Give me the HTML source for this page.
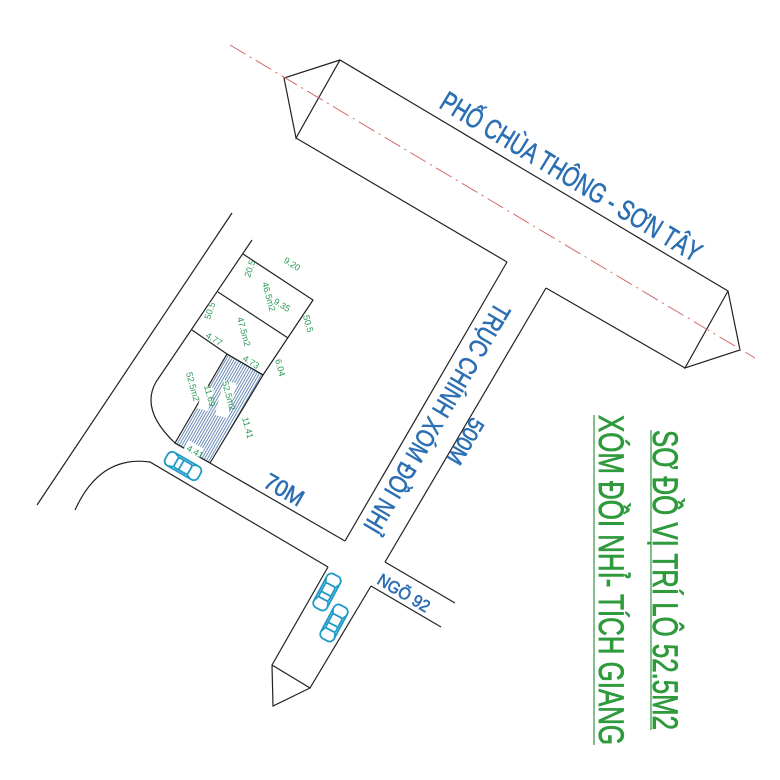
<!DOCTYPE html>
<html><head><meta charset="utf-8"><style>
html,body{margin:0;padding:0;background:#fff;}
svg{display:block;}
.b{fill:#2b6fb3;stroke:#2b6fb3;stroke-width:0.6;font-family:"Liberation Sans",sans-serif;}
.g{fill:#2a9a55;font-family:"Liberation Sans",sans-serif;font-size:9px;}
.gt{fill:#2e9a3c;stroke:#2e9a3c;stroke-width:0.8;font-family:"Liberation Sans","DejaVu Sans",sans-serif;}
</style></head><body>
<svg width="780" height="780" viewBox="0 0 780 780" xmlns="http://www.w3.org/2000/svg">
<defs>
<pattern id="h" width="2.4" height="10" patternUnits="userSpaceOnUse" patternTransform="rotate(30)">
<line x1="1" y1="0" x2="1" y2="10" stroke="#5a7fb0" stroke-width="0.9"/>
</pattern>
<g id="car" fill="none" stroke="#1e9ac6" stroke-width="1.8">
<rect x="-19" y="-7.5" width="38" height="15" rx="5"/>
<rect x="-8" y="-5.5" width="16" height="11" rx="2"/>
<line x1="-8" y1="-5.5" x2="-13" y2="-7.5"/><line x1="-8" y1="5.5" x2="-13" y2="7.5"/>
<line x1="8" y1="-5.5" x2="12" y2="-7.5"/><line x1="8" y1="5.5" x2="12" y2="7.5"/>
<line x1="-2" y1="-5.5" x2="-2" y2="5.5"/>
</g>
</defs>
<g fill="none" stroke="#222" stroke-width="1.2">
<polyline points="340,60 284,78 296,138 340,60 728,291 740,350 685,368 728,291"/>
<line x1="296" y1="138" x2="507" y2="262"/>
<line x1="685" y1="368" x2="546" y2="288"/>
<line x1="507" y1="262" x2="345" y2="541"/>
<line x1="546" y1="288" x2="385" y2="562"/>
<line x1="385" y1="562" x2="455" y2="603"/>
<line x1="371" y1="586" x2="441" y2="627"/>
<line x1="371" y1="586" x2="310" y2="688"/>
<polyline points="328,567 272,665 273,706 310,688 272,665"/>
<line x1="210" y1="463" x2="345" y2="541"/>
<path d="M75,510 Q100,455 150,462 L328,567"/>
<line x1="232" y1="213" x2="37" y2="505"/>
<path d="M252,240 L156,382 Q140,410 175,443 L210,463"/>
<polyline points="243,254 313,300 263,375"/>
<line x1="218" y1="292" x2="288" y2="338"/>
<polyline points="192,330 227,354 263,375"/>
</g>
<polygon points="227,354 263,375 210,463 175,443" fill="url(#h)" stroke="#222" stroke-width="1.2"/>
<line x1="230" y1="45" x2="755" y2="358" stroke="#d46a6a" stroke-width="1" stroke-dasharray="18,5,2,5"/>
<g class="g">
<text transform="translate(250,278) rotate(-72)">20.5</text>
<text transform="translate(283,262) rotate(32)">9.20</text>
<text transform="translate(262,283) rotate(75)">46.5m2</text>
<text transform="translate(273,303) rotate(32)">9.35</text>
<text transform="translate(303,316) rotate(75)">50.5</text>
<text transform="translate(210,320) rotate(-72)">50.5</text>
<text transform="translate(237,318) rotate(75)">47.5m2</text>
<text transform="translate(205,337) rotate(32)">4.77</text>
<text transform="translate(242,360) rotate(32)">4.73</text>
<text transform="translate(275,360) rotate(75)">6.04</text>
<text transform="translate(186,373) rotate(75)">52.5m2</text>
<rect x="200" y="386" width="11" height="24" fill="#fff" transform="rotate(15,205,399)"/>
<text transform="translate(204,386) rotate(75)">11.69</text>
<rect x="219" y="381" width="13" height="36" fill="#fff" transform="rotate(15,225,400)"/>
<text transform="translate(222,382) rotate(75)">52.5m2</text>
<text transform="translate(242,418) rotate(75)">11.41</text>
<rect x="185" y="444" width="18" height="10" fill="#fff" transform="rotate(30,194,449)"/>
<text transform="translate(186,450) rotate(30)">4.41</text>
</g>
<use href="#car" transform="translate(183,466) rotate(30)"/>
<use href="#car" transform="translate(327,592) rotate(-62)"/>
<use href="#car" transform="translate(334,623) rotate(-62)"/>
<text class="b" font-size="28" textLength="300" lengthAdjust="spacingAndGlyphs" transform="translate(438,107) rotate(31.3)">PHỐ CHÙA THÔNG - SƠN TÂY</text>
<text class="b" font-size="26" textLength="262" lengthAdjust="spacingAndGlyphs" transform="translate(496,301) rotate(120.6)">TRỤC CHÍNH XÓM ĐỒI NHỈ</text>
<text class="b" font-size="22" textLength="50" lengthAdjust="spacingAndGlyphs" transform="translate(472,416) rotate(120.6)">500M</text>
<text class="b" font-size="23" textLength="42" lengthAdjust="spacingAndGlyphs" transform="translate(262,486) rotate(30)">70M</text>
<text class="b" font-size="17" textLength="58" lengthAdjust="spacingAndGlyphs" transform="translate(376,583) rotate(31)">NGÕ 92</text>
<text class="gt" font-size="35" textLength="300" lengthAdjust="spacingAndGlyphs" transform="translate(653,430) rotate(90)">SƠ ĐỒ VỊ TRÍ LÔ 52.5M2</text>
<line x1="651" y1="430" x2="651" y2="730" stroke="#2e9a3c" stroke-width="1.2"/>
<text class="gt" font-size="35" textLength="330" lengthAdjust="spacingAndGlyphs" transform="translate(599,415) rotate(90)">XÓM ĐỒI NHỈ- TÍCH GIANG</text>
<line x1="594" y1="415" x2="594" y2="745" stroke="#2e9a3c" stroke-width="1.2"/>
</svg>
</body></html>
